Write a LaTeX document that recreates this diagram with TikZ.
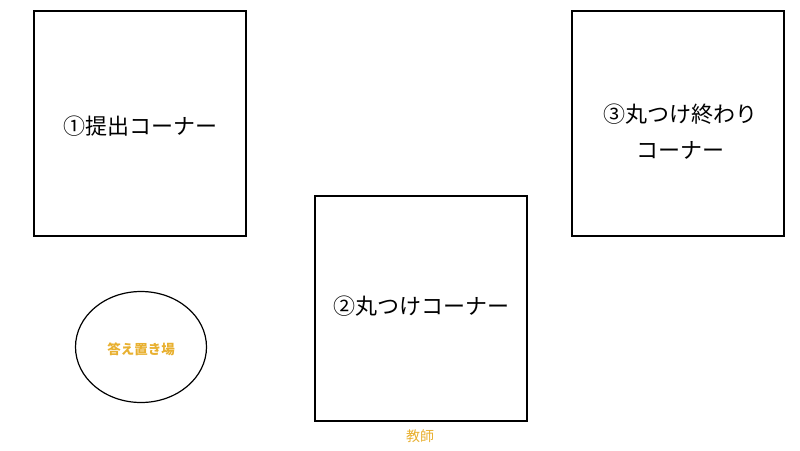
\documentclass[tikz,border=0pt]{standalone}
\usepackage{fontspec}
\setmainfont{Noto Sans CJK JP}
\begin{document}
\begin{tikzpicture}[x=1pt,y=-1pt,
  corner/.style={draw=black,line width=1.3pt,minimum width=212pt,minimum height=225pt,inner sep=0pt},
  bigtxt/.style={font=\fontsize{22}{36}\selectfont,align=center,inner sep=0pt},
  orangetxt/.style={text=labelorange,font=\fontsize{13.5}{15}\selectfont\bfseries}]
\definecolor{labelorange}{HTML}{E8B030}
\useasboundingbox (0,0) rectangle (800,450);
\node[corner] (c1) at (140,123.5) {};
\node[bigtxt] (c1t) at (140,126) {①提出コーナー};
\node[corner] (c2) at (421,308.5) {};
\node[bigtxt] (c2t) at (421,306) {②丸つけコーナー};
\node[corner] (c3) at (678,123.5) {};
\node[bigtxt] (c3t) at (680,132) {③丸つけ終わり\\コーナー};
\draw[line width=1.2pt] (141,347) ellipse [x radius=65.5, y radius=55.5];
\node[orangetxt] (ans) at (141,349) {答え置き場};
\node[text=labelorange,font=\fontsize{14}{16}\selectfont] (t) at (420,436) {教師};
\end{tikzpicture}
\end{document}
